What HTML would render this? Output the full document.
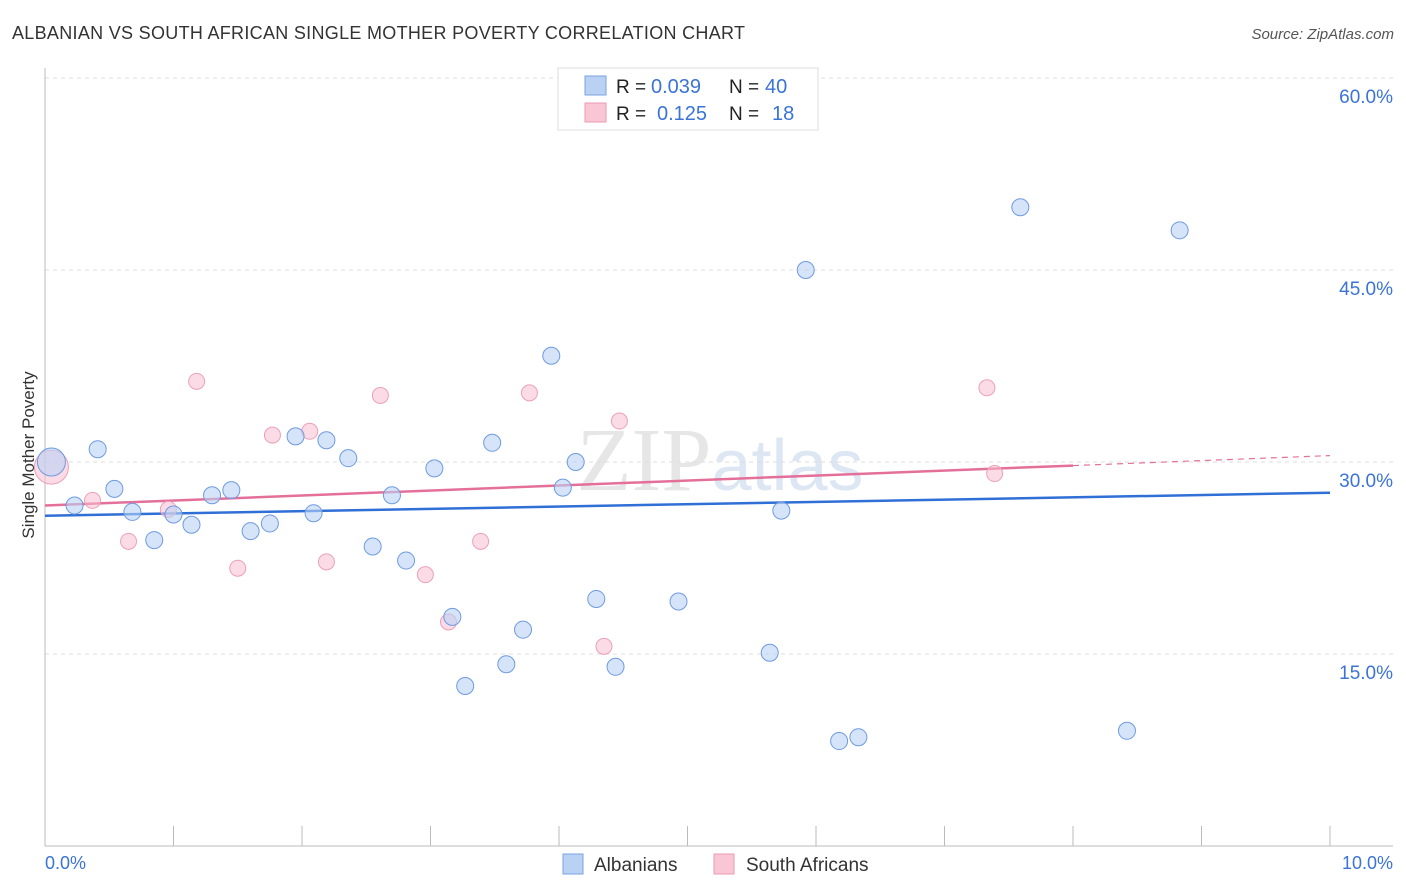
<!DOCTYPE html>
<html><head><meta charset="utf-8"><style>
body{margin:0;background:#fff;font-family:"Liberation Sans",sans-serif;}
svg{display:block}
</style></head><body>
<svg id="chart" width="1406" height="892">
<text x="12" y="39" font-size="18" fill="#333" textLength="733">ALBANIAN VS SOUTH AFRICAN SINGLE MOTHER POVERTY CORRELATION CHART</text>
<text x="1394" y="39" font-size="15" fill="#555" font-style="italic" text-anchor="end">Source: ZipAtlas.com</text>
<text x="720" y="490" font-size="90" fill="#e6e6e6" text-anchor="middle" font-family="Liberation Serif,serif">ZIP<tspan fill="#dde6f3" font-family="Liberation Sans,sans-serif" font-size="72">atlas</tspan></text>
<g id="grid"></g><g id="axes"></g><g id="lines"></g><g id="pts"></g>
<text x="34" y="455" font-size="17" fill="#333" text-anchor="middle" transform="rotate(-90 34 455)">Single Mother Poverty</text>
<text x="45" y="869" font-size="18" fill="#3b73d6">0.0%</text>
<text x="1393" y="869" font-size="18" fill="#3b73d6" text-anchor="end">10.0%</text>
<g>
<rect x="558" y="68" width="260" height="62" fill="#fff" stroke="#ddd"/>
<rect x="585" y="76" width="21" height="19" fill="#b9d1f3" stroke="#7aa3e0"/>
<rect x="585" y="103" width="21" height="19" fill="#f8c6d4" stroke="#ec9ab2"/>
<text x="616" y="93" font-size="19" fill="#222">R =</text>
<text x="651" y="93" font-size="20" fill="#3b73d6">0.039</text>
<text x="729" y="93" font-size="19" fill="#222">N =</text>
<text x="765" y="93" font-size="20" fill="#3b73d6">40</text>
<text x="616" y="120" font-size="19" fill="#222">R =</text>
<text x="657" y="120" font-size="20" fill="#3b73d6">0.125</text>
<text x="729" y="120" font-size="19" fill="#222">N =</text>
<text x="772" y="120" font-size="20" fill="#3b73d6">18</text>
</g>
<g>
<rect x="563" y="854" width="20" height="20" fill="#b9d1f3" stroke="#7aa3e0"/>
<text x="594" y="871" font-size="19" fill="#333">Albanians</text>
<rect x="714" y="854" width="20" height="20" fill="#f8c6d4" stroke="#ec9ab2"/>
<text x="746" y="871" font-size="19" fill="#333">South Africans</text>
</g>
</svg>
<script>
const yTicks=[15,30,45,60];
const yTickLabels=["15.0%","30.0%","45.0%","60.0%"];
const blueX=[0.05,0.41,0.23,0.54,0.68,0.85,1.0,1.14,1.30,1.45,1.60,1.75,1.95,2.09,2.19,2.36,2.55,2.70,2.81,3.03,3.17,3.27,3.48,3.59,3.72,3.94,4.03,4.13,4.29,4.44,4.93,5.64,5.73,5.92,6.18,6.33,7.59,8.42,8.83];
const blueY=[30.0,31.0,26.6,27.9,26.1,23.9,25.9,25.1,27.4,27.8,24.6,25.2,32.0,26.0,31.7,30.3,23.4,27.4,22.3,29.5,17.9,12.5,31.5,14.2,16.9,38.3,28.0,30.0,19.3,14.0,19.1,15.1,26.2,45.0,8.2,8.5,49.9,9.0,48.1];
const pinkX=[0.05,0.37,0.65,0.96,1.18,1.50,1.77,2.06,2.19,2.61,2.96,3.14,3.39,3.77,4.35,4.47,7.33,7.39];
const pinkY=[29.6,27.0,23.8,26.3,36.3,21.7,32.1,32.4,22.2,35.2,21.2,17.5,23.8,35.4,15.6,33.2,35.8,29.1];
const blueTrend=[25.8,27.6], pinkTrend=[26.6,29.7,30.5], pinkSolidEnd=8.0;
const X=v=>45+v*128.5, Y=v=>846-v*12.8;
const ns="http://www.w3.org/2000/svg";
function mk(p,t,a){const e=document.createElementNS(ns,t);for(const k in a)e.setAttribute(k,a[k]);document.getElementById(p).appendChild(e);return e;}
yTicks.forEach((t,i)=>{
 const l=mk('grid','line',{x1:45,x2:1393,y1:Y(t),y2:Y(t),stroke:'#ddd','stroke-dasharray':'4 4'});
 
 
 const tx=mk('grid','text',{x:1393,y:Y(t)+25,'font-size':19,fill:'#3b73d6','text-anchor':'end'});
 tx.textContent=yTickLabels[i];
 
 
});
let a=mk('axes','line',{x1:45,x2:45,y1:68,y2:846,stroke:'#bbb'});


a=mk('axes','line',{x1:45,x2:1393,y1:846,y2:846,stroke:'#bbb'});


for(let i=1;i<=10;i++){const t=mk('axes','line',{x1:45+i*128.5,x2:45+i*128.5,y1:826,y2:846,stroke:'#bbb'});
 
 }
let tl=mk('lines','line',{x1:X(0),x2:X(10),y1:Y(blueTrend[0]),y2:Y(blueTrend[1]),stroke:'#2f6fd6','stroke-width':2.5});


const pk=v=>pinkTrend[0]+(pinkTrend[2]-pinkTrend[0])*v/10;
tl=mk('lines','line',{x1:X(0),x2:X(pinkSolidEnd),y1:Y(pk(0)),y2:Y(pk(pinkSolidEnd)),stroke:'#e4709a','stroke-width':2.5});


tl=mk('lines','line',{x1:X(pinkSolidEnd),x2:X(10),y1:Y(pk(pinkSolidEnd)),y2:Y(pk(10)),stroke:'#e4709a','stroke-width':1.2,'stroke-dasharray':'6 5'});


pinkX.forEach((x,i)=>{const c=mk('pts','circle',{cx:X(x),cy:Y(pinkY[i]),r:i==0?17:8,fill:'rgba(248,190,208,0.55)',stroke:'#eca0b8','stroke-width':1});
 
 });
blueX.forEach((x,i)=>{const c=mk('pts','circle',{cx:X(x),cy:Y(blueY[i]),r:i==0?14:8.5,fill:'rgba(185,210,243,0.6)',stroke:'#6f9be0','stroke-width':1});
 
 });
</script>
</body></html>
